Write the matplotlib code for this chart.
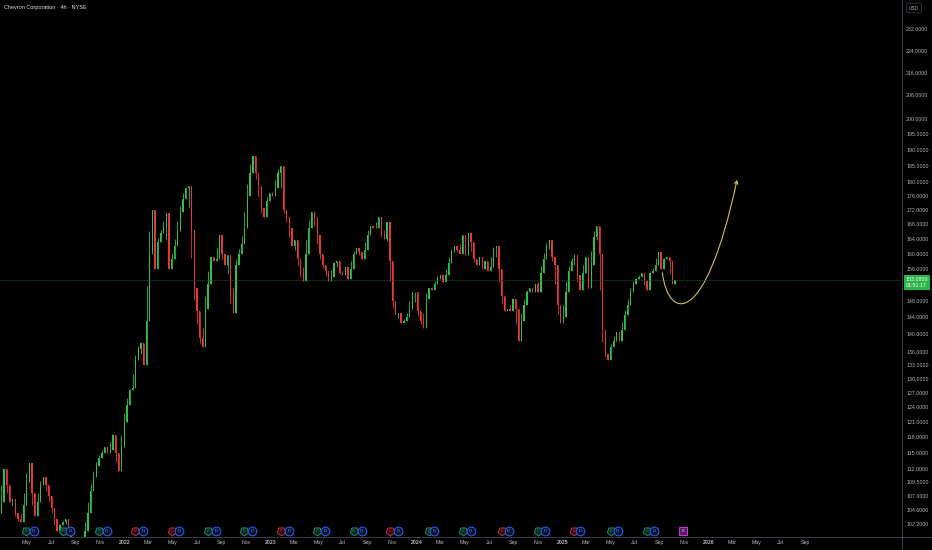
import matplotlib
matplotlib.use("Agg")
import matplotlib.pyplot as plt
import matplotlib.dates as mdates
from matplotlib.path import Path
from matplotlib.patches import FancyArrowPatch
from matplotlib.transforms import blended_transform_factory
import numpy as np
import pandas as pd

plt.rcParams['font.family'] = ['Liberation Sans', 'DejaVu Sans']

# weekly closes (first week ends 2021-02-26)
first_open = 104.0
closes = [
    106, 112, 109, 106, 106.5, 104, 103, 102.5, 105.5, 109.5,
    113, 107.5, 103.5, 106, 109, 110.5, 109, 107, 105, 103,
    101, 102, 102.5, 103, 101.5, 99.5, 98, 97.5, 98.5, 99,
    101, 104, 108, 110.5, 112.5, 114, 115, 116, 115, 115.5,
    118.5, 115, 111.5, 116, 121, 124.5, 127.5, 128, 134, 136.5,
    138, 133, 143, 160,
    172, 156, 163, 165.5, 167, 171,
    156, 158.5, 162, 166, 171.5, 175, 178.5, 179, 166.5, 151,
    145.5, 139, 137, 146, 152, 159, 158, 158.5, 165, 160,
    157, 159.5, 150, 145, 157, 160, 162.5, 167, 176, 183,
    188, 183, 179, 172.5, 170, 174.5, 177, 176, 178.5, 183,
    185, 172, 170, 167, 162, 163.5, 158.5,
    155, 153, 160,
    167, 171.5, 170, 165, 160, 157, 155.5, 153, 154, 157.5,
    158, 155, 154.5, 156.5, 153.5, 156, 160, 161.5, 160.5, 158.5,
    161, 165, 167.5, 167, 167, 170, 165, 164, 168.5, 158,
    148, 144.5, 145, 142.5, 143, 144, 146, 150, 150, 145.5,
    143, 141.5, 148.5, 151, 150.5, 152, 154, 154.5, 152.5, 154.5,
    157.5, 160.5, 162, 161, 160,
    165, 159.5, 165.5, 163, 158.5,
    157, 159, 156, 158, 155.5, 156.5, 161.5, 162, 156, 149,
    145.5, 146, 145.5, 148.5, 146, 138.5, 143, 147, 150, 151,
    150, 152, 150, 155, 158.5, 162, 163.5, 159, 157, 147,
    142.5, 144, 150, 155.5, 158, 159.5, 154.5, 150.5, 155, 159,
    151, 157, 164.5, 167.5, 160, 141, 135.5, 134, 137, 138.5,
    140.5, 138.5, 141, 144.5, 147, 150, 152, 153.5, 154, 155,
    153, 150.5, 155, 155.5, 157, 160.5, 156, 158.5, 159, 158,
    152, 153.08,
]
weeks = pd.date_range('2021-02-26', periods=len(closes), freq='7D')
last_price = 153.08
countdown = '01:51:17'

earn_dates = ['2021-04-30', '2021-07-30', '2021-10-29', '2022-01-28', '2022-04-29',
              '2022-07-29', '2022-10-28', '2023-01-27', '2023-04-28', '2023-07-28',
              '2023-10-27', '2024-02-02', '2024-04-26', '2024-08-02', '2024-11-01',
              '2025-01-31', '2025-05-02', '2025-08-01', '2025-10-31']
earn_kind = ['g', 'g', 'g', 'r', 'r', 'g', 'g', 'r', 'g', 'g',
             'r', 'g', 'g', 'r', 'g', 'r', 'g', 'g', 'p']
div_dates = ['2021-05-18', '2021-08-18', '2021-11-17', '2022-02-16', '2022-05-18',
             '2022-08-18', '2022-11-17', '2023-02-16', '2023-05-18', '2023-08-17',
             '2023-11-16', '2024-02-15', '2024-05-16', '2024-08-19', '2024-11-18',
             '2025-02-14', '2025-05-19', '2025-08-19']

# projection curve (bezier: start, two control points, end)
curve_dates = ['2025-09-08', '2025-09-23', '2025-12-24', '2026-03-14']
curve_prices = [155.0, 143.3, 141.0, 180.8]

y_ticks = [102.2, 104.6, 107, 109.5, 112, 115, 118, 121, 124, 127, 130, 133, 136,
           140, 144, 148, 156, 160, 164, 168, 172, 176, 180, 185, 190, 195, 200,
           208, 216, 224, 232]

UP = '#2fbf4a'
DOWN = '#e8372c'
TXT = '#b2b5be'
GRID = '#434651'

fig = plt.figure(figsize=(9.32, 5.5), dpi=100, facecolor='black')
ax = fig.add_axes([0, 13 / 550, 902 / 932, 537 / 550])
ax.set_facecolor('black')
ax.set_yscale('log')

o = np.array([first_open] + closes[:-1], dtype=float)
c = np.array(closes, dtype=float)
nxt = np.append(c[1:], c[-1])
hi = np.maximum(np.maximum(o, c), (c + nxt) / 2)
lo = np.minimum(np.minimum(o, c), (c + nxt) / 2)
up = c >= o
cols = np.where(up, UP, DOWN)
# wicks, then bodies
ax.vlines(weeks, lo, hi, colors=cols, lw=0.6)
ax.bar(weeks[up], (c - o)[up], bottom=o[up], width=3.2, color=UP, linewidth=0)
ax.bar(weeks[~up], (c - o)[~up], bottom=o[~up], width=3.2, color=DOWN, linewidth=0)

ax.axhline(last_price, color='#1d5e33', lw=0.6, ls=(0, (1, 1)))

# yellow projection arrow
verts = [(mdates.date2num(pd.Timestamp(d)), p) for d, p in zip(curve_dates, curve_prices)]
path = Path(verts, [Path.MOVETO, Path.CURVE4, Path.CURVE4, Path.CURVE4])
arrow = FancyArrowPatch(path=path, arrowstyle='->,head_length=2.2,head_width=1.2',
                        color='#cfc24a', lw=0.8, transform=ax.transData)
ax.add_patch(arrow)

ax.set_xlim(pd.Timestamp('2021-02-23'), pd.Timestamp('2027-05-01'))
ax.set_ylim(100.0, 243.6)

# axis ticks
ax.yaxis.tick_right()
ax.set_yticks(y_ticks)
ax.set_yticklabels([f'{v:.4f}' for v in y_ticks])
ax.yaxis.set_minor_locator(matplotlib.ticker.NullLocator())
ax.tick_params(axis='y', length=0, pad=3, labelsize=3.8, colors=TXT)

xt = pd.date_range('2021-05-01', '2026-09-01', freq='2MS')
ax.set_xticks(xt)
ax.set_xticklabels([str(d.year) if d.month == 1 else d.strftime('%b') for d in xt])
for lab, d in zip(ax.get_xticklabels(), xt):
    if d.month == 1:
        lab.set_fontweight('bold')
ax.tick_params(axis='x', length=0, pad=2.5, labelsize=3.8, colors=TXT)

for s in ax.spines.values():
    s.set_visible(False)

# axis lines
fig.add_artist(plt.Line2D([902 / 932, 902 / 932], [0, 1], color=GRID, lw=0.6))
fig.add_artist(plt.Line2D([0, 1], [13 / 550, 13 / 550], color=GRID, lw=0.6))

# event markers
bt = blended_transform_factory(ax.transData, ax.transAxes)
kind_col = {'g': ('#1f8f6a', '#08231b'), 'r': ('#c8323f', '#2a080c'), 'p': ('#c040d0', '#5a1a66')}
for d, k in zip(earn_dates, earn_kind):
    ec, fc = kind_col[k]
    dd = pd.Timestamp(d)
    ax.plot([dd], [0.0105], transform=bt, marker=(5, 0, 180) if k != 'p' else 's',
            ms=6.3, mec=ec, mfc=fc, mew=0.7, clip_on=False)
    ax.text(dd, 0.0105, 'E', transform=bt, ha='center', va='center', fontsize=3.2,
            color=ec if k != 'p' else '#f0b0ff', clip_on=False)
for d in div_dates:
    dd = pd.Timestamp(d)
    ax.plot([dd], [0.0105], transform=bt, marker='o', ms=6.3, mec='#2962ff', mfc='#08122e',
            mew=0.7, clip_on=False)
    ax.text(dd, 0.0105, 'D', transform=bt, ha='center', va='center', fontsize=3.2,
            color='#5b8cff', clip_on=False)

# last price label
yt = blended_transform_factory(ax.transAxes, ax.transData)
ax.annotate(f'{last_price:.4f}\n{countdown}', xy=(1.0, last_price), xycoords=yt,
            xytext=(3.5, 3), textcoords='offset pixels', ha='left', va='top',
            fontsize=3.8, color='white', linespacing=1.2, annotation_clip=False,
            bbox=dict(boxstyle='square,pad=0.35', fc='#2bb44a', ec='none'))

fig.text(4 / 932, 1 - 7.5 / 550, 'Chevron Corporation · 4h · NYSE', fontsize=4.0,
         color='#e0e3eb', va='center', ha='left')
fig.text(914 / 932, 1 - 8 / 550, 'USD', fontsize=3.4, color=TXT, va='center', ha='center',
         bbox=dict(boxstyle='round,pad=0.5,rounding_size=0.3', fc='black', ec='#363a45', lw=0.6))

fig.savefig('out.png', dpi=100, facecolor='black')
